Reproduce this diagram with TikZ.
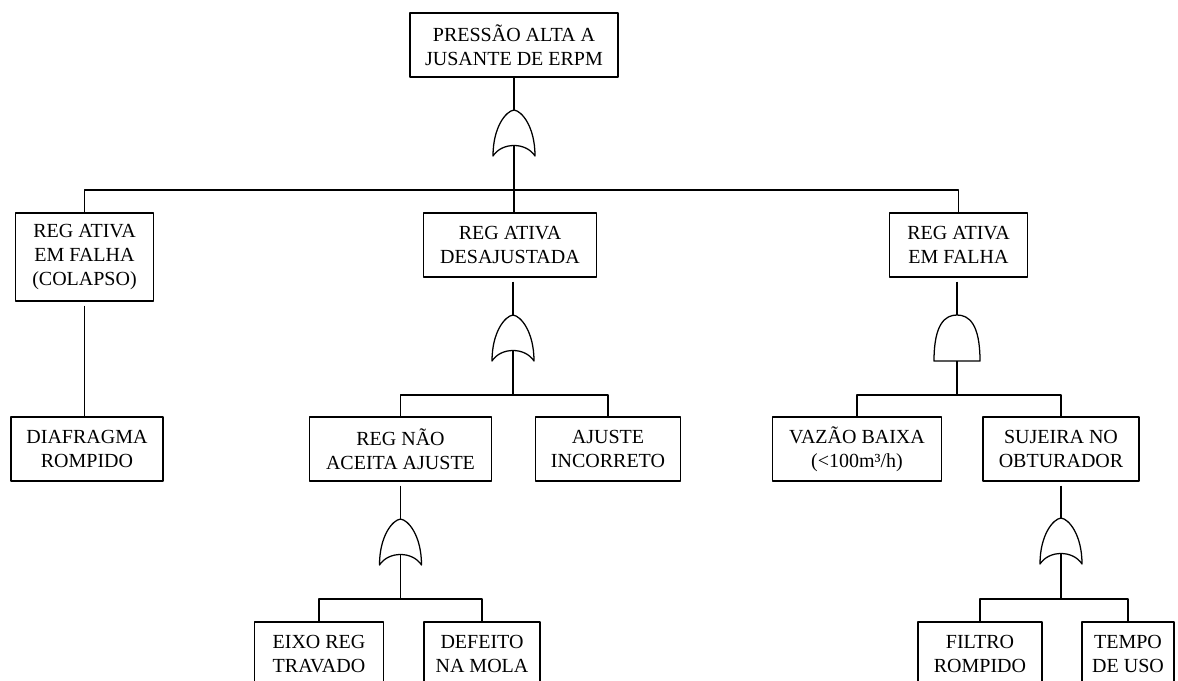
\documentclass[tikz,border=0pt]{standalone}
\usepackage{fontspec}
\setmainfont{Liberation Serif}
\newlength{\lw}
\setlength{\lw}{0.95pt}
\tikzstyle{every picture}+=[line width=\lw]
\tikzstyle{every picture}+=[join=round]
\tikzstyle{every picture}+=[x=0.75pt,y=-0.75pt]
\tikzstyle{event}=[draw,align=center,inner sep=0pt,minimum height=48pt,font=\fontsize{15}{18}\selectfont]
\tikzstyle{from box}=[shorten <=3pt]

% gates: name, x, y of the top
\newcommand{\orgate}[3]{%
  \coordinate (#1-in) at (#2,#3);
  \coordinate (#1-out) at (#2,#3+35);
  \draw (#2-21,#3+46) .. controls (#2-21,#3+17) and (#2-8,#3+1) .. (#1-in)
    .. controls (#2+8,#3+1) and (#2+21,#3+17) .. (#2+21,#3+46)
    .. controls (#2+12,#3+32) and (#2-12,#3+32) .. cycle;
}
\newcommand{\andgate}[3]{%
  \coordinate (#1-in) at (#2,#3);
  \coordinate (#1-out) at (#2,#3+46);
  \draw (#2-23,#3+46) .. controls (#2-23,#3+9) and (#2-12,#3) .. (#1-in)
    .. controls (#2+12,#3) and (#2+23,#3+9) .. (#2+23,#3+46) -- cycle;
}

\begin{document}
\begin{tikzpicture}
\useasboundingbox (0,0) rectangle (1178,681);

% top event
\node[event,minimum width=156pt] (pressao) at (514,45) {PRESSÃO ALTA A\\JUSANTE DE ERPM};
\orgate{g0}{514}{110}
\coordinate (bus0) at (514,190);
\draw (pressao.south) -- (g0-in);
\draw (g0-out) -- (bus0);

% second level
\node[event,minimum width=104pt,minimum height=66pt] (colapso) at (84.5,257) {REG ATIVA\\EM FALHA\\(COLAPSO)};
\node[event,minimum width=130pt] (desajustada) at (510,245) {REG ATIVA\\DESAJUSTADA};
\node[event,minimum width=104pt] (falha) at (958.5,245) {REG ATIVA\\EM FALHA};
\draw (colapso.north) |- (bus0) -| (falha.north);
\draw (bus0) -- (bus0 |- desajustada.north);

% left branch
\node[event,minimum width=114pt] (diafragma) at (87,449) {DIAFRAGMA\\ROMPIDO};
\draw[from box] (colapso.south) -- (colapso.south |- diafragma.north);

% middle branch
\orgate{g1}{513}{315}
\coordinate (bus1) at (513,395);
\draw[from box] (desajustada.south -| g1-in) -- (g1-in);
\draw (g1-out) -- (bus1);
\node[event,minimum width=137pt] (naoaceita) at (400.5,449) {REG NÃO\\ACEITA AJUSTE};
\node[event,minimum width=109pt] (incorreto) at (608,449) {AJUSTE\\INCORRETO};
\draw (naoaceita.north) |- (bus1) -| (incorreto.north);

\orgate{g3}{400.5}{519}
\coordinate (bus3) at (400.5,599);
\draw[from box] (naoaceita.south) -- (g3-in);
\draw (g3-out) -- (bus3);
\node[event,minimum width=97pt] (eixo) at (319,654) {EIXO REG\\TRAVADO};
\node[event,minimum width=87pt] (defeito) at (482,654) {DEFEITO\\NA MOLA};
\draw (eixo.north) |- (bus3) -| (defeito.north);

% right branch
\andgate{g2}{957}{315}
\coordinate (bus2) at (957,395);
\draw[from box] (falha.south -| g2-in) -- (g2-in);
\draw (g2-out) -- (bus2);
\node[event,minimum width=127pt] (vazao) at (857,449) {VAZÃO BAIXA\\(<100m³/h)};
\node[event,minimum width=117pt] (sujeira) at (1061,449) {SUJEIRA NO\\OBTURADOR};
\draw (vazao.north) |- (bus2) -| (sujeira.north);

\orgate{g4}{1061}{518}
\coordinate (bus4) at (1061,599);
\draw[from box] (sujeira.south) -- (g4-in);
\draw (g4-out) -- (bus4);
\node[event,minimum width=93pt] (filtro) at (980,654) {FILTRO\\ROMPIDO};
\node[event,minimum width=69pt] (tempo) at (1128,654) {TEMPO\\DE USO};
\draw (filtro.north) |- (bus4) -| (tempo.north);
\end{tikzpicture}
\end{document}
